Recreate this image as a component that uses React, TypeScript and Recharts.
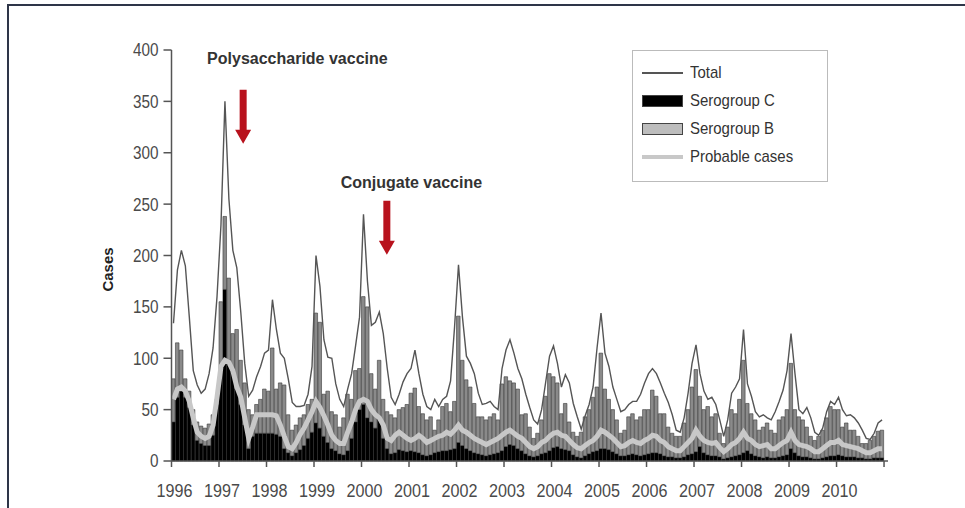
import { ComposedChart, Bar, Line, XAxis, YAxis, ReferenceDot } from "recharts";

// monthly counts, Jan 1996 .. Dec 2010 (one row of 12 per year)
const serogroupC = [
  38, 62, 68, 62, 52, 35, 20, 17, 15, 15, 25, 55,
  88, 167, 98, 88, 70, 55, 35, 12, 24, 27, 27, 27,
  27, 27, 26, 24, 12, 8, 5, 8, 11, 15, 22, 28,
  37, 32, 24, 18, 12, 10, 7, 6, 10, 22, 38, 50,
  55, 42, 38, 32, 43, 22, 12, 7, 8, 11, 10, 9,
  10, 9, 8, 6, 5, 6, 8, 9, 10, 10, 11, 12,
  18, 15, 12, 10, 8, 7, 6, 5, 6, 7, 8, 10,
  14, 16, 15, 12, 10, 7, 5, 4, 5, 7, 8, 10,
  13, 14, 12, 11, 10, 6, 4, 3, 5, 7, 9, 10,
  12, 12, 11, 9, 7, 5, 5, 6, 7, 6, 5, 6,
  7, 8, 8, 7, 5, 4, 4, 3, 3, 4, 6, 7,
  9, 14, 8, 6, 5, 5, 4, 2, 3, 4, 5, 6,
  8, 10, 7, 5, 4, 3, 4, 3, 3, 4, 5, 6,
  12, 8, 5, 4, 4, 3, 2, 2, 3, 4, 5, 5,
  6, 5, 4, 4, 4, 3, 3, 2, 2, 3, 3, 3
];

const serogroupB = [
  42, 53, 40, 18, 16, 15, 18, 17, 17, 21, 20, 5,
  67, 71, 80, 36, 58, 43, 41, 38, 21, 28, 33, 43,
  41, 83, 44, 52, 62, 37, 25, 27, 31, 30, 33, 32,
  107, 103, 41, 50, 36, 35, 26, 36, 55, 38, 50, 40,
  105, 108, 47, 38, 55, 38, 36, 38, 34, 39, 42, 46,
  56, 62, 45, 40, 35, 37, 22, 31, 43, 46, 37, 46,
  123, 83, 67, 62, 48, 36, 37, 35, 37, 39, 32, 65,
  68, 62, 61, 58, 35, 39, 28, 18, 22, 33, 55, 75,
  69, 62, 34, 45, 28, 22, 20, 25, 38, 43, 53, 62,
  93, 58, 49, 41, 33, 22, 25, 37, 39, 34, 38, 44,
  43, 61, 55, 39, 41, 29, 23, 21, 21, 33, 44, 65,
  80, 49, 42, 47, 38, 41, 23, 15, 30, 46, 41, 54,
  90, 46, 39, 35, 26, 30, 33, 27, 24, 36, 38, 44,
  83, 42, 38, 36, 29, 21, 18, 22, 27, 38, 48, 45,
  44, 28, 33, 26, 26, 21, 14, 15, 18, 21, 26, 27
];

const totalCases = [
  134, 186, 205, 190, 140, 88, 74, 66, 70, 85, 110, 160,
  230, 350, 255, 205, 188, 145, 95, 63, 69, 82, 92, 105,
  108, 157, 128, 105, 100, 80, 57, 53, 53, 54, 65, 92,
  200, 170, 118, 101, 100, 75, 60, 53, 70, 85, 112, 140,
  240, 175, 132, 135, 145, 124, 90, 62, 55, 65, 77, 85,
  90, 108, 85, 65, 53, 50, 60, 53, 60, 63, 78, 130,
  191, 140, 102, 95, 85, 66, 55, 56, 58, 53, 50, 90,
  108, 118, 105, 90, 80, 65, 52, 40, 36, 50, 76, 102,
  112, 95, 72, 84, 76, 56, 43, 31, 44, 55, 72, 110,
  144, 105, 92, 72, 60, 48, 50, 55, 58, 58, 65, 76,
  85, 90, 85, 76, 66, 57, 45, 30, 28, 42, 66, 95,
  113, 85, 68, 60, 62, 55, 40, 24, 40, 66, 72, 80,
  128, 75, 63, 48, 43, 45, 42, 40, 48, 58, 69, 88,
  124, 85, 50, 46, 52, 42, 28, 25, 32, 48, 58, 55,
  62, 50, 44, 45, 42, 37, 30, 22, 21, 27, 37, 40
];

const probableCases = [
  60, 70, 72, 68, 58, 42, 28, 24, 22, 24, 35, 62,
  92, 98, 96, 88, 72, 62, 42, 22, 33, 45, 45, 45,
  45, 45, 44, 35, 24, 14, 12, 18, 26, 32, 40, 48,
  58, 52, 44, 35, 25, 20, 17, 17, 28, 38, 50, 58,
  60, 58, 50, 45, 42, 35, 22, 20, 25, 28, 25, 22,
  20, 22, 25, 22, 18, 20, 22, 24, 25, 28, 26, 30,
  35, 30, 28, 25, 22, 20, 18, 16, 18, 20, 22, 25,
  28, 30, 27, 24, 22, 18, 14, 12, 14, 18, 20, 24,
  27, 28, 25, 24, 20, 16, 13, 12, 15, 18, 20, 24,
  30, 28, 25, 22, 18, 14, 15, 18, 20, 18, 17, 20,
  22, 25, 24, 20, 18, 14, 12, 10, 10, 14, 18, 22,
  30, 24, 20, 18, 17, 18, 13, 9, 12, 16, 18, 22,
  28, 22, 20, 16, 14, 15, 16, 12, 12, 15, 18, 20,
  28, 20, 16, 15, 14, 12, 9, 9, 12, 15, 18, 18,
  20, 16, 15, 14, 13, 12, 10, 8, 8, 10, 12, 12
];

const yearTicks = [0, 12, 24, 36, 48, 60, 72, 84, 96, 108, 120, 132, 144, 156, 168, 180];
const yearLabels = ["1996", "1997", "1998", "1999", "2000", "2001", "2002", "2003", "2004", "2005", "2006", "2007", "2008", "2009", "2010", ""];
const caseTicks = [0, 50, 100, 150, 200, 250, 300, 350, 400];

// vaccine annotations, in data units (month index, cases)
const vaccineNotes = [
  { label: "Polysaccharide vaccine", textX: 31.8, textY: 392, arrowX: 18.1, arrowY: 335 },
  { label: "Conjugate vaccine", textX: 60.6, textY: 271, arrowX: 54.4, arrowY: 227 }
];

const legendItems = [
  { name: "Total", kind: "line", color: "#555", width: 1.5 },
  { name: "Serogroup C", kind: "box", color: "#000" },
  { name: "Serogroup B", kind: "box", color: "#bdbdbd" },
  { name: "Probable cases", kind: "line", color: "#c8c8c8", width: 4 }
];

const data = serogroupC.map((c, i) => ({
  month: i + 0.5,
  c,
  b: serogroupB[i],
  total: totalCases[i],
  probable: probableCases[i]
}));

const FONT = "'Liberation Sans', Arial, sans-serif";

const YTick = ({ x, y, payload }: any) => (
  <text
    transform={`translate(${x},${y}) scale(0.85,1)`}
    textAnchor="end"
    dy="0.36em"
    fontSize={18}
    fill="#4a4a4a"
    fontFamily={FONT}
  >
    {payload.value}
  </text>
);

const XTick = ({ x, y, payload }: any) => (
  <text
    transform={`translate(${x + 3},${y}) scale(0.85,1)`}
    textAnchor="middle"
    dy="0.71em"
    fontSize={19}
    fill="#4a4a4a"
    fontFamily={FONT}
  >
    {yearLabels[yearTicks.indexOf(payload.value)]}
  </text>
);

const DownArrow = ({ cx, cy }: any) => {
  const h = 54;
  const shaft = 7;
  const headW = 16;
  const headH = 14;
  const top = cy - h / 2;
  const bottom = cy + h / 2;
  const d = `M${cx - shaft / 2},${top} L${cx + shaft / 2},${top} L${cx + shaft / 2},${bottom - headH} L${cx + headW / 2},${bottom - headH} L${cx},${bottom} L${cx - headW / 2},${bottom - headH} L${cx - shaft / 2},${bottom - headH} Z`;
  return <path d={d} fill="#b8121d" />;
};

const CasesLabel = ({ viewBox }: any) => {
  const x = viewBox.x + 16;
  const y = viewBox.y + viewBox.height / 2 + 14;
  return (
    <text
      x={x}
      y={y}
      transform={`rotate(-90, ${x}, ${y})`}
      textAnchor="middle"
      dy="0.36em"
      fontSize={15}
      fontWeight="bold"
      fill="#222"
      fontFamily={FONT}
    >
      Cases
    </text>
  );
};

function LegendBox() {
  return (
    <div
      style={{
        position: "absolute",
        left: 632,
        top: 50,
        width: 194,
        height: 130,
        border: "1.5px solid #bbb",
        background: "#fff",
        fontFamily: FONT,
        fontSize: 17,
        color: "#333"
      }}
    >
      {legendItems.map((item, i) => (
        <div
          key={item.name}
          style={{ position: "absolute", left: 9, top: 12 + i * 28, height: 20, display: "flex", alignItems: "center" }}
        >
          {item.kind === "line" ? (
            <div style={{ width: 41, height: item.width, background: item.color }} />
          ) : (
            <div
              style={{
                width: 39,
                height: 10,
                background: item.color,
                border: "1px solid #444"
              }}
            />
          )}
          <span style={{ marginLeft: 7, display: "inline-block", transform: "scaleX(0.88)", transformOrigin: "left center", whiteSpace: "nowrap" }}>
            {item.name}
          </span>
        </div>
      ))}
    </div>
  );
}

export default function App() {
  return (
    <div style={{ position: "absolute", left: 0, top: 0, width: 965, height: 508, background: "#fff", overflow: "hidden" }}>
      <div
        style={{
          position: "absolute",
          left: 7,
          top: 4,
          width: 958,
          height: 504,
          borderTop: "2px solid #2e3548",
          borderLeft: "2px solid #2e3548",
          boxSizing: "border-box"
        }}
      />
      <ComposedChart
        width={965}
        height={508}
        data={data}
        barCategoryGap={0}
        barGap={0}
        barSize={5}
        margin={{ top: 50, right: 77, bottom: 17, left: 91.5 }}
        style={{ position: "absolute", left: 0, top: 0 }}
      >
        <XAxis
          type="number"
          dataKey="month"
          domain={[0, 181]}
          ticks={yearTicks}
          interval={0}
          height={30}
          tick={<XTick />}
          tickSize={6}
          tickMargin={16}
          stroke="#555"
          strokeWidth={1.5}
        />
        <YAxis
          domain={[0, 400]}
          ticks={caseTicks}
          interval={0}
          width={80}
          tick={<YTick />}
          tickSize={8}
          tickMargin={5}
          stroke="#555"
          strokeWidth={1.5}
          label={<CasesLabel />}
        />
        <Bar dataKey="c" stackId="s" fill="#000" stroke="#000" strokeWidth={0.5} barSize={5} isAnimationActive={false} />
        <Bar dataKey="b" stackId="s" fill="#8a8a8a" stroke="#3a3a3a" strokeWidth={0.6} barSize={5} isAnimationActive={false} />
        <Line
          type="linear"
          dataKey="probable"
          stroke="#c8c8c8"
          strokeWidth={5}
          dot={false}
          activeDot={false}
          isAnimationActive={false}
        />
        <Line
          type="linear"
          dataKey="total"
          stroke="#555"
          strokeWidth={1.4}
          dot={false}
          activeDot={false}
          isAnimationActive={false}
        />
        {vaccineNotes.map((n) => (
          <ReferenceDot
            key={n.label + "-arrow"}
            x={n.arrowX}
            y={n.arrowY}
            shape={<DownArrow />}
            ifOverflow="visible"
          />
        ))}
        {vaccineNotes.map((n) => (
          <ReferenceDot
            key={n.label}
            x={n.textX}
            y={n.textY}
            r={0}
            fill="none"
            stroke="none"
            ifOverflow="visible"
            label={{
              value: n.label,
              position: "center",
              fontSize: 16,
              fontWeight: "bold",
              fill: "#333",
              fontFamily: FONT
            }}
          />
        ))}
      </ComposedChart>
      <LegendBox />
    </div>
  );
}
